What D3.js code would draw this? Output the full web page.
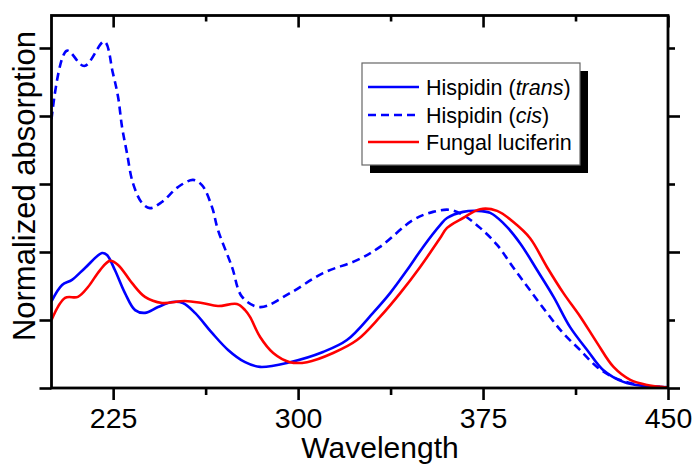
<!DOCTYPE html>
<html>
<head>
<meta charset="utf-8">
<script src="https://cdn.jsdelivr.net/npm/d3@7"></script>
<style>
  html, body { margin: 0; padding: 0; background: #fff; }
  svg { display: block; font-family: "Liberation Sans", Arial, sans-serif; }
</style>
</head>
<body>
<svg id="chart" width="692" height="464"></svg>
<script>
// Absorption spectra (normalized units), wavelength in nm
const wlTrans = [200, 204.3, 208.3, 213.6, 220.5, 222.5, 225.7, 229.8, 233.9, 237.9, 243.2, 248.9, 253.3, 258.2, 265.1, 271.6, 278.5, 284.6, 296.7, 310.1, 319.8, 330.4, 337.3, 344.2, 350.7, 357.6, 360.4, 366.9, 372.6, 377.9, 383.2, 390.0, 396.9, 403.6, 410.3, 417.2, 423.7, 431.9, 440.0, 448.0, 450];
const absTrans = [0.255, 0.303, 0.318, 0.353, 0.397, 0.391, 0.347, 0.279, 0.229, 0.221, 0.238, 0.253, 0.250, 0.221, 0.162, 0.112, 0.076, 0.062, 0.076, 0.106, 0.141, 0.221, 0.279, 0.347, 0.415, 0.479, 0.500, 0.518, 0.521, 0.515, 0.485, 0.426, 0.347, 0.268, 0.179, 0.112, 0.053, 0.018, 0.006, 0.003, 0.002];

const wlCis = [200, 206.2, 213.3, 221.4, 224.9, 227.0, 228.6, 230.6, 233.0, 236.7, 239.9, 244.8, 251.3, 257.4, 261.0, 265.1, 267.5, 273.2, 277.3, 284.6, 296.7, 310.1, 323.9, 333.2, 346.6, 354.7, 361.6, 366.9, 373.8, 380.7, 387.1, 394.0, 400.9, 407.4, 414.3, 421.2, 427.7, 434.6, 441.5, 447.9, 450];
const absCis = [0.790, 0.992, 0.947, 1.019, 0.926, 0.856, 0.768, 0.691, 0.603, 0.544, 0.529, 0.547, 0.591, 0.612, 0.597, 0.532, 0.465, 0.356, 0.268, 0.238, 0.279, 0.338, 0.376, 0.415, 0.494, 0.518, 0.524, 0.509, 0.471, 0.421, 0.356, 0.288, 0.221, 0.162, 0.112, 0.062, 0.032, 0.015, 0.006, 0.003, 0.002];

const wlLuc = [200, 205.5, 210.7, 214.8, 219.7, 223.7, 227.0, 232.6, 237.9, 244.8, 254.1, 261.0, 267.5, 275.2, 278.5, 280.5, 284.6, 289.9, 296.7, 303.6, 314.2, 323.9, 333.2, 341.4, 349.5, 357.6, 360.4, 366.9, 373.8, 380.7, 387.3, 394.0, 400.9, 407.6, 414.5, 421.3, 427.9, 434.7, 441.6, 448.0, 450];
const absLuc = [0.200, 0.265, 0.268, 0.297, 0.347, 0.374, 0.362, 0.309, 0.268, 0.250, 0.256, 0.250, 0.241, 0.247, 0.229, 0.209, 0.150, 0.103, 0.076, 0.076, 0.103, 0.141, 0.209, 0.279, 0.356, 0.441, 0.471, 0.500, 0.526, 0.521, 0.488, 0.441, 0.356, 0.279, 0.209, 0.132, 0.062, 0.024, 0.009, 0.003, 0.002];

const seriesNames = ["Hispidin (trans)", "Hispidin (cis)", "Fungal luciferin"];
const xMajorTicks = [225, 300, 375, 450];
const xMinorTicks = [262.5, 337.5, 412.5];
const yMajorTicks = [0, 0.4, 0.8];
const yMinorTicks = [0.2, 0.6, 1.0];

const series = [
  { name: seriesNames[0], wl: wlTrans, v: absTrans, color: "#0000ff", dash: null },
  { name: seriesNames[1], wl: wlCis,   v: absCis,   color: "#0000ff", dash: "8,5" },
  { name: seriesNames[2], wl: wlLuc,   v: absLuc,   color: "#ff0000", dash: null }
];

const svg = d3.select("#chart");
const pLeft = 51.5, pRight = 668, pTop = 15.5, pBottom = 388;

const x = d3.scaleLinear().domain([200, 450]).range([pLeft, pRight]);
const y = d3.scaleLinear().domain([0, (pBottom - pTop) / 340]).range([pBottom, pTop]);

svg.append("defs").append("clipPath").attr("id", "plotClip")
  .append("rect").attr("x", pLeft).attr("y", pTop).attr("width", pRight - pLeft).attr("height", pBottom - pTop);

// Spectra
const line = d3.line().x(d => x(d[0])).y(d => y(d[1])).curve(d3.curveCatmullRom.alpha(0.5));
const plot = svg.append("g").attr("clip-path", "url(#plotClip)");
series.forEach(s => {
  plot.append("path")
    .datum(s.wl.map((w, i) => [w, s.v[i]]))
    .attr("fill", "none")
    .attr("stroke", s.color)
    .attr("stroke-width", 2.6)
    .attr("stroke-linejoin", "round")
    .attr("stroke-dasharray", s.dash)
    .attr("d", line);
});

// Axes with major/minor ticks
function styleAxis(g) {
  g.select(".domain").remove();
  g.selectAll(".tick line").attr("stroke", "#000").attr("stroke-width", 2.6);
}
const noLabel = () => "";

svg.append("g").attr("transform", `translate(0,${pBottom})`)
  .call(d3.axisBottom(x).tickValues(xMajorTicks).tickSize(12).tickPadding(8).tickFormat(d3.format("d")))
  .call(styleAxis)
  .call(g => g.selectAll("text").attr("font-size", 28.5).attr("fill", "#000").attr("font-family", "Liberation Sans, Arial, sans-serif"));
svg.append("g").attr("transform", `translate(0,${pBottom})`)
  .call(d3.axisBottom(x).tickValues(xMinorTicks).tickSize(7).tickFormat(noLabel)).call(styleAxis);

svg.append("g").attr("transform", `translate(0,${pTop})`)
  .call(d3.axisBottom(x).tickValues(xMajorTicks).tickSize(12).tickFormat(noLabel)).call(styleAxis);
svg.append("g").attr("transform", `translate(0,${pTop})`)
  .call(d3.axisBottom(x).tickValues(xMinorTicks).tickSize(6).tickFormat(noLabel)).call(styleAxis);

svg.append("g").attr("transform", `translate(${pLeft},0)`)
  .call(d3.axisLeft(y).tickValues(yMajorTicks.concat(yMinorTicks)).tickSize(12).tickFormat(noLabel)).call(styleAxis);

svg.append("g").attr("transform", `translate(${pRight},0)`)
  .call(d3.axisLeft(y).tickValues(yMajorTicks).tickSize(-12).tickFormat(noLabel)).call(styleAxis);
svg.append("g").attr("transform", `translate(${pRight},0)`)
  .call(d3.axisLeft(y).tickValues(yMinorTicks).tickSize(-7).tickFormat(noLabel)).call(styleAxis);

// Frame
svg.append("rect")
  .attr("x", pLeft).attr("y", pTop).attr("width", pRight - pLeft).attr("height", pBottom - pTop)
  .attr("fill", "none").attr("stroke", "#000").attr("stroke-width", 2.8);

// Axis titles
svg.append("text")
  .attr("x", 380).attr("y", 458)
  .attr("text-anchor", "middle").attr("font-size", 30)
  .text("Wavelength");
svg.append("text")
  .attr("transform", "translate(35,186) rotate(-90)")
  .attr("text-anchor", "middle").attr("font-size", 31)
  .text("Normalized absorption");

// Legend with drop shadow
const lg = svg.append("g");
lg.append("rect").attr("x", 370).attr("y", 71).attr("width", 218).attr("height", 102).attr("fill", "#000");
lg.append("rect").attr("x", 362).attr("y", 63).attr("width", 218).attr("height", 102)
  .attr("fill", "#fff").attr("stroke", "#666").attr("stroke-width", 1.2);

const rowY = [87, 115, 142];
series.forEach((s, i) => {
  lg.append("line")
    .attr("x1", 368).attr("x2", 419).attr("y1", rowY[i]).attr("y2", rowY[i])
    .attr("stroke", s.color).attr("stroke-width", 2.6).attr("stroke-dasharray", s.dash);
  const t = lg.append("text").attr("x", 426).attr("y", rowY[i] + 8).attr("font-size", 21.5).attr("fill", "#000");
  const m = s.name.match(/^(.*\()(.*)(\))$/);
  if (m) {
    t.append("tspan").text(m[1]);
    t.append("tspan").attr("font-style", "italic").text(m[2]);
    t.append("tspan").text(m[3]);
  } else {
    t.text(s.name);
  }
});
</script>
</body>
</html>
